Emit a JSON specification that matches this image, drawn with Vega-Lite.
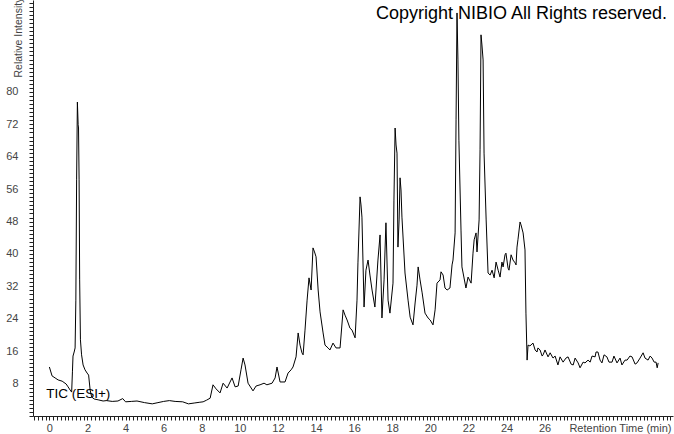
{
  "$schema": "https://vega.github.io/schema/vega-lite/v6.json",
  "width": 640,
  "height": 416,
  "autosize": "none",
  "padding": {"left": 33, "top": 0, "right": 1, "bottom": 18},
  "background": "white",
  "config": {"view": {"stroke": null}, "axis": {"ticks": true, "tickWidth": 1, "tickOpacity": 1, "tickRound": true}},
  "datasets": {
    "tic": [
      {"time": 0.00, "intensity": 12.1}, {"time": 0.14, "intensity": 9.9}, {"time": 0.30, "intensity": 9.4},
      {"time": 0.46, "intensity": 8.9}, {"time": 0.67, "intensity": 8.6}, {"time": 0.88, "intensity": 7.9},
      {"time": 0.98, "intensity": 7.2}, {"time": 1.09, "intensity": 6.4}, {"time": 1.17, "intensity": 5.9},
      {"time": 1.21, "intensity": 10.9}, {"time": 1.24, "intensity": 14.8}, {"time": 1.30, "intensity": 15.8},
      {"time": 1.35, "intensity": 16.8}, {"time": 1.39, "intensity": 28.6}, {"time": 1.43, "intensity": 58.3},
      {"time": 1.47, "intensity": 77.5}, {"time": 1.51, "intensity": 71.9}, {"time": 1.53, "intensity": 71.1},
      {"time": 1.56, "intensity": 58.3}, {"time": 1.59, "intensity": 33.6}, {"time": 1.63, "intensity": 18.8},
      {"time": 1.69, "intensity": 15.1}, {"time": 1.77, "intensity": 12.6}, {"time": 1.87, "intensity": 11.4},
      {"time": 1.98, "intensity": 10.6}, {"time": 2.06, "intensity": 10.1}, {"time": 2.14, "intensity": 6.4},
      {"time": 2.22, "intensity": 4.7}, {"time": 2.35, "intensity": 4.2}, {"time": 2.56, "intensity": 4.0},
      {"time": 2.82, "intensity": 3.7}, {"time": 3.0, "intensity": 3.8}, {"time": 3.3, "intensity": 3.6},
      {"time": 3.6, "intensity": 3.7}, {"time": 3.85, "intensity": 4.3}, {"time": 4.0, "intensity": 3.5},
      {"time": 4.3, "intensity": 3.6}, {"time": 4.6, "intensity": 3.7}, {"time": 5.0, "intensity": 3.3},
      {"time": 5.4, "intensity": 3.0}, {"time": 5.7, "intensity": 3.3}, {"time": 6.0, "intensity": 3.6},
      {"time": 6.3, "intensity": 3.8}, {"time": 6.6, "intensity": 3.6}, {"time": 7.0, "intensity": 3.5},
      {"time": 7.3, "intensity": 3.0}, {"time": 7.6, "intensity": 3.2}, {"time": 7.9, "intensity": 3.4},
      {"time": 8.07, "intensity": 3.5}, {"time": 8.25, "intensity": 3.9}, {"time": 8.44, "intensity": 4.4},
      {"time": 8.59, "intensity": 7.7}, {"time": 8.75, "intensity": 6.7}, {"time": 8.96, "intensity": 5.7},
      {"time": 9.12, "intensity": 8.1}, {"time": 9.33, "intensity": 6.9}, {"time": 9.59, "intensity": 9.4},
      {"time": 9.75, "intensity": 7.2}, {"time": 9.91, "intensity": 7.4}, {"time": 10.06, "intensity": 11.4},
      {"time": 10.17, "intensity": 14.3}, {"time": 10.27, "intensity": 12.6}, {"time": 10.43, "intensity": 8.1},
      {"time": 10.69, "intensity": 6.2}, {"time": 10.85, "intensity": 7.4}, {"time": 11.06, "intensity": 7.7},
      {"time": 11.27, "intensity": 8.1}, {"time": 11.42, "intensity": 7.7}, {"time": 11.69, "intensity": 8.1},
      {"time": 11.85, "intensity": 9.4}, {"time": 11.95, "intensity": 12.1}, {"time": 12.11, "intensity": 8.4},
      {"time": 12.37, "intensity": 8.4}, {"time": 12.53, "intensity": 10.6}, {"time": 12.69, "intensity": 11.4},
      {"time": 12.79, "intensity": 12.1}, {"time": 12.95, "intensity": 14.6}, {"time": 13.06, "intensity": 20.5},
      {"time": 13.16, "intensity": 17.5}, {"time": 13.26, "intensity": 15.6}, {"time": 13.32, "intensity": 15.1},
      {"time": 13.42, "intensity": 21.2}, {"time": 13.53, "intensity": 28.6}, {"time": 13.63, "intensity": 34.1},
      {"time": 13.74, "intensity": 31.1}, {"time": 13.84, "intensity": 41.5}, {"time": 13.92, "intensity": 40.5},
      {"time": 14.0, "intensity": 39.3}, {"time": 14.11, "intensity": 31.1}, {"time": 14.21, "intensity": 25.7},
      {"time": 14.37, "intensity": 20.5}, {"time": 14.47, "intensity": 17.5}, {"time": 14.63, "intensity": 16.8},
      {"time": 14.73, "intensity": 16.3}, {"time": 14.89, "intensity": 18.0}, {"time": 15.05, "intensity": 16.8},
      {"time": 15.26, "intensity": 16.8}, {"time": 15.42, "intensity": 26.2}, {"time": 15.52, "intensity": 24.9},
      {"time": 15.63, "intensity": 23.7}, {"time": 15.78, "intensity": 21.7}, {"time": 15.89, "intensity": 21.2},
      {"time": 16.05, "intensity": 19.3}, {"time": 16.15, "intensity": 28.6}, {"time": 16.2, "intensity": 37.8},
      {"time": 16.31, "intensity": 54.1}, {"time": 16.36, "intensity": 52.1}, {"time": 16.41, "intensity": 49.1},
      {"time": 16.52, "intensity": 26.9}, {"time": 16.62, "intensity": 36.0}, {"time": 16.73, "intensity": 38.5},
      {"time": 16.83, "intensity": 34.8}, {"time": 16.94, "intensity": 31.1}, {"time": 17.09, "intensity": 26.9},
      {"time": 17.25, "intensity": 38.5}, {"time": 17.36, "intensity": 44.7}, {"time": 17.46, "intensity": 24.2},
      {"time": 17.57, "intensity": 33.6}, {"time": 17.67, "intensity": 47.7}, {"time": 17.78, "intensity": 28.6},
      {"time": 17.88, "intensity": 25.4}, {"time": 18.04, "intensity": 32.8}, {"time": 18.09, "intensity": 53.3},
      {"time": 18.15, "intensity": 71.1}, {"time": 18.2, "intensity": 66.9}, {"time": 18.25, "intensity": 64.9},
      {"time": 18.3, "intensity": 41.7}, {"time": 18.36, "intensity": 48.4}, {"time": 18.41, "intensity": 58.8},
      {"time": 18.46, "intensity": 55.8}, {"time": 18.51, "intensity": 49.1}, {"time": 18.67, "intensity": 35.3},
      {"time": 18.83, "intensity": 28.6}, {"time": 18.94, "intensity": 24.4}, {"time": 19.09, "intensity": 22.5},
      {"time": 19.2, "intensity": 27.9}, {"time": 19.3, "intensity": 32.3}, {"time": 19.36, "intensity": 36.8},
      {"time": 19.46, "intensity": 33.6}, {"time": 19.57, "intensity": 30.4}, {"time": 19.72, "intensity": 25.4},
      {"time": 19.88, "intensity": 24.2}, {"time": 19.99, "intensity": 23.7}, {"time": 20.14, "intensity": 22.5},
      {"time": 20.25, "intensity": 26.2}, {"time": 20.35, "intensity": 32.8}, {"time": 20.51, "intensity": 33.6},
      {"time": 20.56, "intensity": 35.6}, {"time": 20.67, "intensity": 34.8}, {"time": 20.77, "intensity": 31.6},
      {"time": 20.88, "intensity": 31.1}, {"time": 21.03, "intensity": 31.6}, {"time": 21.14, "intensity": 37.3},
      {"time": 21.19, "intensity": 38.5}, {"time": 21.3, "intensity": 45.2}, {"time": 21.35, "intensity": 73.1},
      {"time": 21.4, "intensity": 99.5}, {"time": 21.45, "intensity": 87.9}, {"time": 21.5, "intensity": 68.1},
      {"time": 21.61, "intensity": 45.9}, {"time": 21.66, "intensity": 36.8}, {"time": 21.72, "intensity": 35.3},
      {"time": 21.87, "intensity": 31.6}, {"time": 21.98, "intensity": 34.3}, {"time": 22.14, "intensity": 32.8},
      {"time": 22.24, "intensity": 40.2}, {"time": 22.3, "intensity": 43.5}, {"time": 22.4, "intensity": 45.2},
      {"time": 22.45, "intensity": 40.5}, {"time": 22.56, "intensity": 48.4}, {"time": 22.61, "intensity": 65.7},
      {"time": 22.66, "intensity": 94.1}, {"time": 22.71, "intensity": 91.6}, {"time": 22.77, "intensity": 87.9},
      {"time": 22.82, "intensity": 64.9}, {"time": 22.93, "intensity": 48.4}, {"time": 23.03, "intensity": 35.3},
      {"time": 23.14, "intensity": 34.8}, {"time": 23.24, "intensity": 36.0}, {"time": 23.35, "intensity": 34.1},
      {"time": 23.45, "intensity": 38.0}, {"time": 23.56, "intensity": 36.0}, {"time": 23.66, "intensity": 34.3},
      {"time": 23.76, "intensity": 38.0}, {"time": 23.82, "intensity": 36.8}, {"time": 23.92, "intensity": 39.8},
      {"time": 23.97, "intensity": 40.2}, {"time": 24.08, "intensity": 36.5}, {"time": 24.13, "intensity": 36.0},
      {"time": 24.24, "intensity": 39.8}, {"time": 24.34, "intensity": 38.5}, {"time": 24.45, "intensity": 37.8},
      {"time": 24.5, "intensity": 37.3}, {"time": 24.55, "intensity": 41.7}, {"time": 24.6, "intensity": 43.5},
      {"time": 24.71, "intensity": 47.9}, {"time": 24.76, "intensity": 47.2}, {"time": 24.87, "intensity": 45.2},
      {"time": 24.97, "intensity": 41.0}, {"time": 25.02, "intensity": 25.4}, {"time": 25.08, "intensity": 13.8},
      {"time": 25.13, "intensity": 17.5}, {"time": 25.23, "intensity": 17.3}, {"time": 25.39, "intensity": 18.0},
      {"time": 25.5, "intensity": 16.3}, {"time": 25.6, "intensity": 15.8}, {"time": 25.65, "intensity": 16.8},
      {"time": 25.76, "intensity": 16.3}, {"time": 25.87, "intensity": 14.8}, {"time": 25.92, "intensity": 15.1},
      {"time": 26.02, "intensity": 16.3}, {"time": 26.18, "intensity": 14.6}, {"time": 26.29, "intensity": 15.6},
      {"time": 26.44, "intensity": 14.3}, {"time": 26.55, "intensity": 14.8}, {"time": 26.7, "intensity": 12.6},
      {"time": 26.81, "intensity": 14.6}, {"time": 26.97, "intensity": 13.3}, {"time": 27.12, "intensity": 14.3},
      {"time": 27.23, "intensity": 14.6}, {"time": 27.39, "intensity": 12.8}, {"time": 27.5, "intensity": 12.6},
      {"time": 27.6, "intensity": 14.3}, {"time": 27.76, "intensity": 13.1}, {"time": 27.86, "intensity": 11.9},
      {"time": 28.02, "intensity": 13.3}, {"time": 28.12, "intensity": 13.1}, {"time": 28.28, "intensity": 13.8},
      {"time": 28.39, "intensity": 13.3}, {"time": 28.49, "intensity": 14.8}, {"time": 28.65, "intensity": 14.6},
      {"time": 28.7, "intensity": 15.8}, {"time": 28.8, "intensity": 15.8}, {"time": 28.91, "intensity": 13.8},
      {"time": 29.01, "intensity": 13.1}, {"time": 29.12, "intensity": 15.1}, {"time": 29.27, "intensity": 14.6},
      {"time": 29.38, "intensity": 13.3}, {"time": 29.54, "intensity": 13.3}, {"time": 29.64, "intensity": 14.8},
      {"time": 29.8, "intensity": 13.1}, {"time": 29.96, "intensity": 14.3}, {"time": 30.06, "intensity": 12.6},
      {"time": 30.22, "intensity": 13.8}, {"time": 30.33, "intensity": 13.8}, {"time": 30.48, "intensity": 14.8},
      {"time": 30.59, "intensity": 14.6}, {"time": 30.75, "intensity": 12.8}, {"time": 30.85, "intensity": 13.1},
      {"time": 31.01, "intensity": 14.3}, {"time": 31.17, "intensity": 15.6}, {"time": 31.27, "intensity": 14.3},
      {"time": 31.43, "intensity": 13.8}, {"time": 31.54, "intensity": 14.8}, {"time": 31.64, "intensity": 14.3},
      {"time": 31.75, "intensity": 13.3}, {"time": 31.85, "intensity": 13.3}, {"time": 31.91, "intensity": 11.9},
      {"time": 31.96, "intensity": 13.1}
    ]
  },
  "layer": [
    {
      "data": {"name": "tic"},
      "mark": {"type": "line", "color": "#000000", "strokeWidth": 1, "clip": true},
      "encoding": {
        "x": {
          "field": "time", "type": "quantitative",
          "scale": {"domain": [-0.86, 32.74], "nice": false, "zero": false},
          "axis": {
            "title": "Retention Time (min)",
            "tickCount": 500,
            "values": [-0.8,-0.6,-0.4,-0.2,0,0.2,0.4,0.6,0.8,1,1.2,1.4,1.6,1.8,2,2.2,2.4,2.6,2.8,3,3.2,3.4,3.6,3.8,4,4.2,4.4,4.6,4.8,5,5.2,5.4,5.6,5.8,6,6.2,6.4,6.6,6.8,7,7.2,7.4,7.6,7.8,8,8.2,8.4,8.6,8.8,9,9.2,9.4,9.6,9.8,10,10.2,10.4,10.6,10.8,11,11.2,11.4,11.6,11.8,12,12.2,12.4,12.6,12.8,13,13.2,13.4,13.6,13.8,14,14.2,14.4,14.6,14.8,15,15.2,15.4,15.6,15.8,16,16.2,16.4,16.6,16.8,17,17.2,17.4,17.6,17.8,18,18.2,18.4,18.6,18.8,19,19.2,19.4,19.6,19.8,20,20.2,20.4,20.6,20.8,21,21.2,21.4,21.6,21.8,22,22.2,22.4,22.6,22.8,23,23.2,23.4,23.6,23.8,24,24.2,24.4,24.6,24.8,25,25.2,25.4,25.6,25.8,26,26.2,26.4,26.6,26.8,27,27.2,27.4,27.6,27.8,28,28.2,28.4,28.6,28.8,29,29.2,29.4,29.6,29.8,30,30.2,30.4,30.6,30.8,31,31.2,31.4,31.6,31.8,32,32.2,32.4,32.6],
            "labelExpr": "(abs(datum.value - round(datum.value / 2) * 2) < 0.001 && datum.value > -0.5 && datum.value < 27) ? format(round(datum.value), 'd') : ''",
            "labelOverlap": false,
            "labelFlush": false,
            "labelFont": "Liberation Sans", "labelFontSize": 11, "labelColor": "#444444",
            "labelPadding": 2,
            "ticks": true,
            "tickSize": 4,
            "tickColor": "#222222", "domainColor": "#222222", "grid": false,
            "titleFont": "Liberation Sans", "titleFontSize": 11, "titleFontWeight": "normal", "titleColor": "#444444",
            "titleAlign": "right", "titleAnchor": null, "titleBaseline": "top",
            "titleX": 638, "titleY": 6
          }
        },
        "y": {
          "field": "intensity", "type": "quantitative",
          "scale": {"domain": [0, 102.7], "nice": false, "zero": true},
          "axis": {
            "title": "Relative Intensity",
            "tickCount": 500,
            "values": [0,1,2,3,4,5,6,7,8,9,10,11,12,13,14,15,16,17,18,19,20,21,22,23,24,25,26,27,28,29,30,31,32,33,34,35,36,37,38,39,40,41,42,43,44,45,46,47,48,49,50,51,52,53,54,55,56,57,58,59,60,61,62,63,64,65,66,67,68,69,70,71,72,73,74,75,76,77,78,79,80,81,82,83,84,85,86,87,88,89,90,91,92,93,94,95,96,97,98,99,100,101,102],
            "labelExpr": "(datum.value % 8 === 0 && datum.value > 0 && datum.value <= 80) ? format(datum.value, 'd') : ''",
            "labelOverlap": false,
            "labelFlush": false,
            "labelFont": "Liberation Sans", "labelFontSize": 11, "labelColor": "#444444",
            "labelPadding": 11,
            "ticks": true,
            "tickSize": 4,
            "tickColor": "#222222", "domainColor": "#222222", "grid": false,
            "titleFont": "Liberation Sans", "titleFontSize": 10.5, "titleFontWeight": "normal", "titleColor": "#444444",
            "titleAngle": -90, "titleAlign": "left", "titleAnchor": null, "titleBaseline": "middle",
            "titleX": -15, "titleY": 77
          }
        }
      }
    },
    {
      "data": {"values": [{"time": -0.17, "intensity": 5.4, "label": "TIC (ESI+)"}]},
      "mark": {"type": "text", "align": "left", "baseline": "middle", "font": "Liberation Sans", "fontSize": 13.5, "color": "#000000"},
      "encoding": {
        "x": {"field": "time", "type": "quantitative"},
        "y": {"field": "intensity", "type": "quantitative"},
        "text": {"field": "label"}
      }
    },
    {
      "data": {"values": [{"time": 32.43, "intensity": 99.3, "label": "Copyright NIBIO All Rights reserved."}]},
      "mark": {"type": "text", "align": "right", "baseline": "middle", "font": "Liberation Sans", "fontSize": 18, "color": "#000000"},
      "encoding": {
        "x": {"field": "time", "type": "quantitative"},
        "y": {"field": "intensity", "type": "quantitative"},
        "text": {"field": "label"}
      }
    }
  ]
}
